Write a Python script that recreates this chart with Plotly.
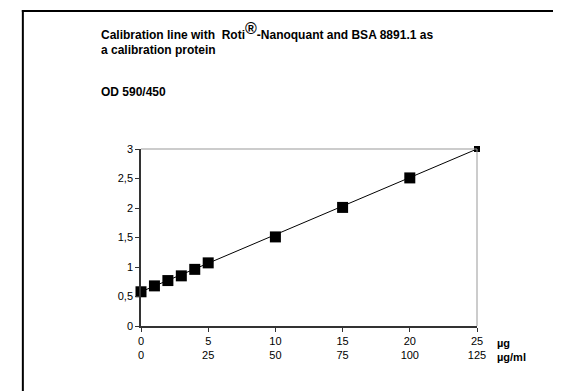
import plotly.graph_objects as go

# Data
amount_ug = [0, 1, 2, 3, 4, 5, 10, 15, 20, 25]
od_590_450 = [0.58, 0.68, 0.77, 0.85, 0.96, 1.07, 1.51, 2.01, 2.51, 3.0]
fit_x = [0, 25]
fit_y = [0.58, 3.0]
tick_ug = [0, 5, 10, 15, 20, 25]
tick_ugml = [0, 25, 50, 75, 100, 125]
y_ticks = [0, 0.5, 1, 1.5, 2, 2.5, 3]
y_ticktext = ["0", "0,5", "1", "1,5", "2", "2,5", "3"]

OFF = 8  # page body margin
W, H = 561 - OFF, 391 - OFF
L, R, T, B = 140.5 - OFF, 477.5 - OFF, 148.5 - OFF, 326 - OFF  # plot area (figure px)

def px(x):
    return (x - OFF - L) / (R - L)

def py(y):
    return (B - (y - OFF)) / (B - T)

fig = go.Figure()
fig.add_trace(go.Scatter(
    x=fit_x, y=fit_y, mode="lines",
    line=dict(color="black", width=1), hoverinfo="skip", cliponaxis=False,
))
fig.add_trace(go.Scatter(
    x=amount_ug, y=od_590_450, mode="markers",
    marker=dict(symbol="square", color="black", opacity=1,
                size=[11] * (len(amount_ug) - 1) + [6],
                line=dict(width=0, color="black")),
    cliponaxis=False,
))

font = "Liberation Sans, Arial, sans-serif"

fig.update_layout(
    width=W, height=H,
    margin=dict(l=L, r=W - R, t=T, b=H - B, pad=0),
    paper_bgcolor="white", plot_bgcolor="white",
    showlegend=False,
    font=dict(family=font, size=11, color="black"),
    xaxis=dict(
        range=[0, 25], tickmode="array", tickvals=tick_ug,
        ticktext=[f"{a}<br>{b}" for a, b in zip(tick_ug, tick_ugml)],
        showgrid=False, zeroline=False, showline=True, linecolor="#333",
        linewidth=1.5, ticks="outside", ticklen=4, tickcolor="#333",
        tickfont=dict(size=11, family=font),
    ),
    yaxis=dict(
        range=[0, 3], tickmode="array", tickvals=y_ticks, ticktext=y_ticktext,
        showgrid=False, zeroline=False, showline=True, linecolor="#333",
        linewidth=1.5, ticks="outside", ticklen=4, tickcolor="#333",
        tickfont=dict(size=11, family=font),
    ),
    shapes=[
        dict(type="line", xref="paper", yref="paper", x0=0, x1=1, y0=1, y1=1,
             line=dict(color="#999", width=1)),
        dict(type="line", xref="paper", yref="paper", x0=1, x1=1, y0=0, y1=1,
             line=dict(color="#999", width=1)),
        # outer frame: left and top edges (right/bottom lie outside the picture)
        dict(type="line", xref="paper", yref="paper",
             x0=px(22), x1=px(22), y0=py(9), y1=py(395),
             line=dict(color="black", width=2)),
        dict(type="line", xref="paper", yref="paper",
             x0=px(21), x1=px(565), y0=py(10), y1=py(10),
             line=dict(color="black", width=2)),
    ],
    annotations=[
        dict(xref="paper", yref="paper", x=px(98), y=py(43.5), xanchor="left", yanchor="bottom",
             align="left", showarrow=False,
             text="<b>Calibration line with  Roti<sup><span style='font-size:16px'>®</span></sup>-Nanoquant and BSA 8891.1 as</b>",
             font=dict(size=12, family=font)),
        dict(xref="paper", yref="paper", x=px(98), y=py(49.5), xanchor="left", yanchor="middle",
             align="left", showarrow=False,
             text="<b>a calibration protein</b>",
             font=dict(size=12, family=font)),
        dict(xref="paper", yref="paper", x=px(98), y=py(91), xanchor="left", yanchor="middle",
             showarrow=False, text="<b>OD 590/450</b>", font=dict(size=12, family=font)),
        dict(xref="paper", yref="paper", x=px(496), y=py(343), xanchor="left", yanchor="middle",
             showarrow=False, text="<b>µg</b>", font=dict(size=11, family=font)),
        dict(xref="paper", yref="paper", x=px(496), y=py(357), xanchor="left", yanchor="middle",
             showarrow=False, text="<b>µg/ml</b>", font=dict(size=11, family=font)),
    ],
)

fig.write_html("out.html", config={"displayModeBar": False})
